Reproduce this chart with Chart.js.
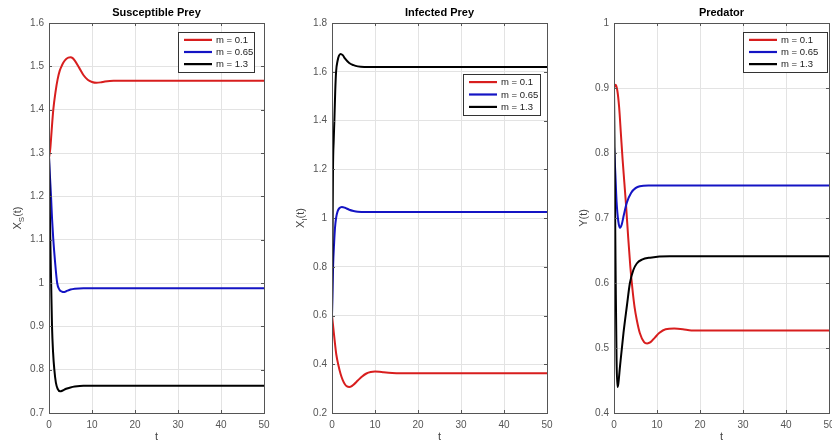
<!DOCTYPE html>
<html><head><meta charset="utf-8">
<script src="https://cdn.jsdelivr.net/npm/chart.js@4"></script>
<style>
html,body{margin:0;padding:0;background:#fff;overflow:hidden;}
#wrap{position:relative;width:832px;height:444px;}
canvas{position:absolute;left:0;top:0;}
</style></head>
<body><div id="wrap">
<canvas id="c1" width="832" height="444"></canvas>
<canvas id="c2" width="832" height="444"></canvas>
<canvas id="c3" width="832" height="444"></canvas>
</div>
<script>
// ---- data ----
const seriesLabels = ['m = 0.1', 'm = 0.65', 'm = 1.3'];
const xTicks = [0, 10, 20, 30, 40, 50];

// Susceptible prey X_S(t)
const sRedT = [0,0.3,0.6,1,1.5,2,2.5,3,3.5,4,4.5,5,5.5,6,7,8,9,10,11,12,13,15,50];
const sRedV = [1.29,1.31,1.35,1.40,1.44,1.47,1.49,1.502,1.511,1.517,1.52,1.521,1.519,1.513,1.497,1.48,1.469,1.464,1.462,1.463,1.465,1.467,1.467];
const sBlueT = [0,0.2,0.47,0.7,1,1.4,1.9,2.4,3,3.5,4,5,6,8,50];
const sBlueV = [1.29,1.25,1.2,1.15,1.10,1.05,1.0,0.985,0.98,0.979,0.981,0.985,0.987,0.988,0.988];
const sBlackT = [0,0.15,0.3,0.5,0.7,0.95,1.24,1.6,2,2.6,3.2,4,5,6,8,50];
const sBlackV = [1.3,1.2,1.1,1.0,0.9,0.84,0.8,0.77,0.756,0.75,0.752,0.756,0.759,0.761,0.763,0.763];

// Infected prey X_I(t)
const iRedT = [0,0.3,0.6,1,1.5,2,2.5,3,3.5,4,4.5,5,6,7,8,9,10,11,12,14,16,50];
const iRedV = [0.6,0.55,0.5,0.44,0.395,0.36,0.335,0.318,0.309,0.307,0.309,0.316,0.333,0.35,0.362,0.368,0.37,0.369,0.367,0.364,0.363,0.363];
const iBlueT = [0,0.1,0.25,0.5,0.7,0.95,1.3,1.7,2.3,3,4,5,6,8,50];
const iBlueV = [0.6,0.68,0.8,0.9,0.96,1.0,1.027,1.04,1.045,1.042,1.034,1.029,1.026,1.025,1.025];
const iBlackT = [0,0.1,0.23,0.4,0.55,0.75,0.95,1.3,1.6,2,2.5,3,4,5,6,7.5,50];
const iBlackV = [0.6,0.85,1.2,1.32,1.4,1.52,1.6,1.645,1.665,1.673,1.668,1.655,1.636,1.627,1.622,1.62,1.62];

// Predator Y(t)
const pRedT = [0,0.4,0.8,1.2,1.6,2,2.4,2.8,3.3,3.8,4.3,4.8,5.3,6,7,7.7,8.5,9.5,10.5,12,14,16,18,50];
const pRedV = [0.9,0.905,0.895,0.87,0.83,0.79,0.755,0.72,0.67,0.625,0.59,0.562,0.543,0.523,0.509,0.507,0.509,0.516,0.523,0.529,0.53,0.529,0.527,0.527];
const pBlueT = [0,0.3,0.6,1,1.4,1.8,2.3,3,4,5,6,8,50];
const pBlueV = [0.81,0.77,0.725,0.695,0.685,0.69,0.705,0.724,0.739,0.746,0.749,0.75,0.75];
const pBlackT = [0,0.2,0.4,0.6,0.8,1.0,1.4,2.2,3.0,3.7,4.5,5.3,6.5,8.4,13,50];
const pBlackV = [0.9,0.75,0.6,0.48,0.44,0.445,0.472,0.523,0.565,0.60,0.62,0.63,0.636,0.639,0.641,0.641];

const colors = ['#d81e1e', '#1414c4', '#000000'];

function pts(t, v){ return t.map((x,i)=>({x:x, y:v[i]})); }

const panelPlugin = {
  id: 'panel',
  afterDraw(chart){
    const o = chart.options.plugins.panel;
    const ctx = chart.ctx, a = chart.chartArea;
    ctx.save();
    ctx.strokeStyle = '#555';
    ctx.lineWidth = 1;
    ctx.strokeRect(Math.round(a.left)+0.5, Math.round(a.top)+0.5, Math.round(a.right-a.left), Math.round(a.bottom-a.top));
    const xs = chart.scales.x, ys = chart.scales.y;
    ctx.beginPath();
    xs.ticks.forEach(t=>{
      const px = Math.round(xs.getPixelForValue(t.value))+0.5;
      ctx.moveTo(px, a.bottom); ctx.lineTo(px, a.bottom-3);
      ctx.moveTo(px, a.top); ctx.lineTo(px, a.top+3);
    });
    ys.ticks.forEach(t=>{
      const py = Math.round(ys.getPixelForValue(t.value))+0.5;
      ctx.moveTo(a.left, py); ctx.lineTo(a.left+3, py);
      ctx.moveTo(a.right, py); ctx.lineTo(a.right-3, py);
    });
    ctx.stroke();
    ctx.fillStyle = '#000';
    ctx.font = 'bold 11px "Liberation Sans", Arial, sans-serif';
    ctx.textAlign = 'center'; ctx.textBaseline = 'middle';
    ctx.fillText(o.title, (a.left+a.right)/2, 13);
    ctx.fillStyle = '#444';
    ctx.font = '11px "Liberation Sans", Arial, sans-serif';
    ctx.fillText('t', (a.left+a.right)/2, 437);
    ctx.save();
    ctx.translate(o.yTitleX, (a.top+a.bottom)/2);
    ctx.rotate(-Math.PI/2);
    ctx.textBaseline = 'middle'; ctx.textAlign = 'left';
    const f1 = '11px "Liberation Sans", Arial, sans-serif';
    const f2 = '8px "Liberation Sans", Arial, sans-serif';
    ctx.font = f1;
    const wMain = ctx.measureText(o.yMain).width;
    const wTail = ctx.measureText(o.yTail).width;
    ctx.font = f2;
    const wSub = o.ySub ? ctx.measureText(o.ySub).width : 0;
    let x0 = -(wMain+wSub+wTail)/2;
    ctx.font = f1; ctx.fillText(o.yMain, x0, 0); x0 += wMain;
    if (o.ySub){ ctx.font = f2; ctx.fillText(o.ySub, x0, 4); x0 += wSub; }
    ctx.font = f1; ctx.fillText(o.yTail, x0, 0);
    ctx.restore();
    const L = o.legend;
    ctx.fillStyle = '#fff';
    ctx.fillRect(L.l, L.t, L.r-L.l, L.b-L.t);
    ctx.strokeStyle = '#333';
    ctx.strokeRect(L.l+0.5, L.t+0.5, L.r-L.l, L.b-L.t);
    ctx.font = '9.5px "Liberation Sans", Arial, sans-serif';
    ctx.textAlign = 'left'; ctx.textBaseline = 'middle';
    const n = chart.data.datasets.length;
    const step = (L.b-L.t)/ (n+0.3);
    chart.data.datasets.forEach((ds,i)=>{
      const y = L.t + step*(i+0.65);
      ctx.strokeStyle = ds.borderColor; ctx.lineWidth = 2.2;
      ctx.beginPath(); ctx.moveTo(L.l+6, y); ctx.lineTo(L.l+34, y); ctx.stroke();
      ctx.fillStyle = '#222';
      ctx.fillText(ds.label, L.l+38, y+0.5);
    });
    ctx.restore();
  }
};

function makeChart(id, area, yMin, yMax, yStep, series, panel){
  const W = 832, H = 444;
  return new Chart(document.getElementById(id), {
    type: 'line',
    data: {
      datasets: series.map((s,i)=>({
        label: seriesLabels[i],
        data: pts(s[0], s[1]),
        borderColor: colors[i],
        borderWidth: 2,
        pointRadius: 0,
        cubicInterpolationMode: 'monotone',
        fill: false,
        order: 2-i
      }))
    },
    options: {
      responsive: false,
      animation: false,
      layout: { padding: { left: 0, top: area.t, right: W-area.r, bottom: 0 } },
      plugins: { legend: {display:false}, tooltip: {enabled:false}, title:{display:false}, panel: panel },
      scales: {
        x: {
          type: 'linear', min: 0, max: 50,
          afterBuildTicks: s => { s.ticks = xTicks.map(v=>({value:v})); },
          afterFit: s => { s.height = H - area.b; s.paddingLeft = 0; s.paddingRight = 0; },
          grid: { color: '#e3e3e3', drawTicks: false },
          border: { display: false },
          ticks: { color: '#555', padding: 6, font: { size: 10, family: '"Liberation Sans", Arial, sans-serif' }, maxRotation: 0 }
        },
        y: {
          type: 'linear', min: yMin, max: yMax,
          afterFit: s => { s.width = area.l; s.paddingTop = 0; s.paddingBottom = 0; },
          grid: { color: '#e3e3e3', drawTicks: false },
          border: { display: false },
          ticks: { stepSize: yStep, color: '#555', padding: 5,
                   font: { size: 10, family: '"Liberation Sans", Arial, sans-serif' },
                   callback: v => String(+Number(v).toFixed(2)) }
        }
      }
    },
    plugins: [panelPlugin]
  });
}

makeChart('c1', {l:49, r:264, t:23, b:413}, 0.7, 1.6, 0.1,
  [[sRedT,sRedV],[sBlueT,sBlueV],[sBlackT,sBlackV]],
  {title:'Susceptible Prey', yMain:'X', ySub:'S', yTail:'(t)', yTitleX:18,
   legend:{l:178, t:32, r:254, b:72}});
makeChart('c2', {l:332, r:547, t:23, b:413}, 0.2, 1.8, 0.2,
  [[iRedT,iRedV],[iBlueT,iBlueV],[iBlackT,iBlackV]],
  {title:'Infected Prey', yMain:'X', ySub:'I', yTail:'(t)', yTitleX:301,
   legend:{l:463, t:74, r:540, b:115}});
makeChart('c3', {l:614, r:829, t:23, b:413}, 0.4, 1.0, 0.1,
  [[pRedT,pRedV],[pBlueT,pBlueV],[pBlackT,pBlackV]],
  {title:'Predator', yMain:'Y', ySub:'', yTail:'(t)', yTitleX:584,
   legend:{l:743, t:32, r:827, b:72}});
</script>
</body></html>
